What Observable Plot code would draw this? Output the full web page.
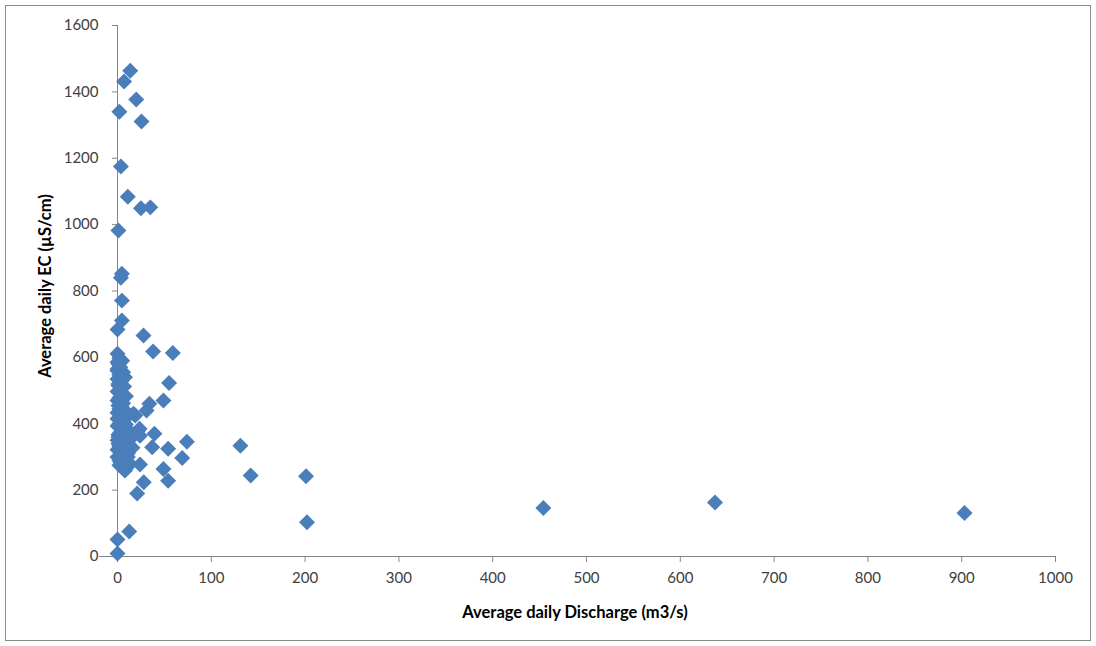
<!DOCTYPE html>
<html><head><meta charset="utf-8">
<script src="https://cdn.jsdelivr.net/npm/d3@7"></script>
<script src="https://cdn.jsdelivr.net/npm/@observablehq/plot@0.6"></script>
<style>
body{margin:0;background:#fff;}
#wrap{position:relative;width:1096px;height:646px;overflow:hidden;}
#border{position:absolute;left:5px;top:5px;width:1084px;height:634px;border:1px solid #8c8c8c;pointer-events:none;}
.title{position:absolute;font-family:Lato,"Open Sans",sans-serif;font-weight:bold;font-size:16.5px;color:#000;white-space:nowrap;}
#xt{left:575px;top:612px;transform:translate(-50%,-50%);}
#yt{left:45px;top:286px;transform:translate(-50%,-50%) rotate(-90deg);}
</style>
</head><body>
<div id="wrap"><div id="chart"></div><div id="border"></div>
<div class="title" id="xt"></div><div class="title" id="yt"></div></div>
<script>
const xTitle = "Average daily Discharge (m3/s)";
const yTitle = "Average daily EC (µS/cm)";
const xTicks = [0,100,200,300,400,500,600,700,800,900,1000];
const yTicks = [0,200,400,600,800,1000,1200,1400,1600];

// scattered points
const discharge = [13.6,7,20,2,25.6,3.6,11,25,35,1,4.7,3.6,4.7,4.7,0,27.7,38,59,55,49,34,31,39.4,74,131,54,37,69,142,201,24,49,54,28,21,12.5,0,0,202,454,637,903,19,23.5,24,8,17,22];
const ec =        [1464,1431,1377,1340,1311,1175,1084,1049,1052,982,852,840,771,711,684,666,618,613,523,470,460,440,370,346,334,325,329,297,244,242,277,264,228,224,190,75,51,9,103,146,163,131,425,385,364,259,430,379];

// dense cluster near zero discharge
const dischargeLow = [0,2,5,1,3,0,6,2,8,0,4,1,7,3,0,5,9,2,0,6,1,4,8,0,3,10,1,6,2,0,5,12,3,1,7,14,0,4,9,2,16,0,6,11,3,1,8,5,13,2,10,7,0,3,1,5,2,0,4,6,1,3,0,2,7,0,4,1,9,6,11,3];
const ecLow =       [611,597,590,580,570,560,555,548,540,535,528,520,512,505,497,490,483,478,470,462,455,448,440,433,426,420,414,408,400,393,387,380,374,367,361,355,350,344,338,332,328,322,316,310,304,298,292,286,280,275,268,262,565,545,515,475,445,415,395,372,340,318,300,290,270,585,455,360,398,350,300,285];

const data = discharge.map((d,i)=>({x:d,y:ec[i]}))
  .concat(dischargeLow.map((d,i)=>({x:d,y:ecLow[i]})));

document.getElementById("xt").textContent = xTitle;
document.getElementById("yt").textContent = yTitle;

const plot = Plot.plot({
  width:1096, height:646,
  marginLeft:117, marginRight:41, marginTop:25, marginBottom:90,
  x:{domain:[0,1000]},
  y:{domain:[0,1600]},
  style:{fontFamily:"Lato, 'Open Sans', sans-serif", fontSize:"15px", color:"#404040", background:"transparent", overflow:"visible"},
  marks:[
    Plot.axisX({ticks:xTicks, tickSize:6, tickPadding:10, stroke:"#868686", fill:"#404040", label:null, tickFormat:d=>String(d)}),
    Plot.axisY({ticks:yTicks, tickSize:5, tickPadding:14, stroke:"#868686", fill:"#404040", label:null, tickFormat:d=>String(d)}),
    Plot.ruleY([0], {stroke:"#868686", insetLeft:-18}),
    Plot.ruleX([0], {stroke:"#868686"}),
    Plot.dot(data, {x:"x", y:"y", symbol:"diamond2", r:7.2, fill:"#4a7ebb", stroke:"none"})
  ]
});
document.getElementById("chart").appendChild(plot);
</script>
</body></html>
